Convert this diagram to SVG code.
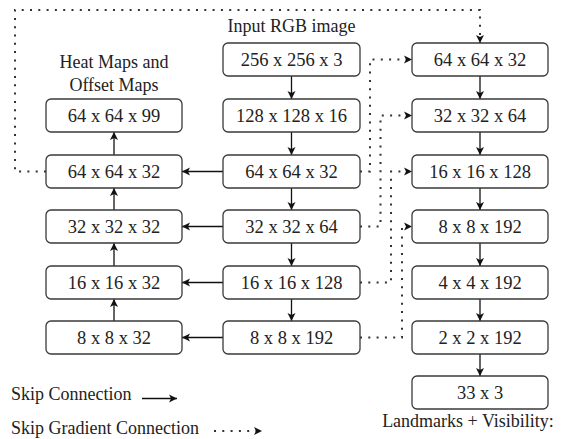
<svg xmlns="http://www.w3.org/2000/svg" width="563" height="439" viewBox="0 0 563 439">
<defs>
<marker id="ah" markerUnits="userSpaceOnUse" markerWidth="10" markerHeight="10" refX="8" refY="4" orient="auto" viewBox="0 0 10 8">
<path d="M0,0 L8,4 L0,8 L2,4 Z" fill="#111"/>
</marker>
</defs>
<style>
.box{fill:#fff;stroke:#3a3a3a;stroke-width:1.3}
.t{font-family:"Liberation Serif","Times New Roman",serif;font-size:18.5px;fill:#222;text-anchor:middle}
.lb{font-family:"Liberation Serif","Times New Roman",serif;font-size:18px;fill:#222}
.sc{fill:none;stroke:#111;stroke-width:1.3;marker-end:url(#ah)}
.dt{fill:none;stroke:#333;stroke-width:2;stroke-dasharray:2 6.3}
.dta{fill:none;stroke:#333;stroke-width:2;stroke-dasharray:2 6.3;marker-end:url(#ah)}
</style>
<rect width="563" height="439" fill="#fff"/>

<text class="lb" x="291.5" y="32" text-anchor="middle">Input RGB image</text>
<text class="lb" x="114" y="68" text-anchor="middle">Heat Maps and</text>
<text class="lb" x="114" y="90.5" text-anchor="middle">Offset Maps</text>

<g id="connectors">
<line class="sc" x1="291.5" y1="76" x2="291.5" y2="99"/>
<line class="sc" x1="291.5" y1="132" x2="291.5" y2="155"/>
<line class="sc" x1="291.5" y1="188" x2="291.5" y2="210"/>
<line class="sc" x1="291.5" y1="243" x2="291.5" y2="266"/>
<line class="sc" x1="291.5" y1="299" x2="291.5" y2="321"/>
<line class="sc" x1="480" y1="76" x2="480" y2="99"/>
<line class="sc" x1="480" y1="132" x2="480" y2="155"/>
<line class="sc" x1="480" y1="188" x2="480" y2="210"/>
<line class="sc" x1="480" y1="243" x2="480" y2="266"/>
<line class="sc" x1="480" y1="299" x2="480" y2="321"/>
<line class="sc" x1="480" y1="354" x2="480" y2="376"/>
<line class="sc" x1="114" y1="155" x2="114" y2="132"/>
<line class="sc" x1="114" y1="210" x2="114" y2="188"/>
<line class="sc" x1="114" y1="266" x2="114" y2="243"/>
<line class="sc" x1="114" y1="321" x2="114" y2="299"/>
<line class="sc" x1="223" y1="171.5" x2="182" y2="171.5"/>
<line class="sc" x1="223" y1="226.5" x2="182" y2="226.5"/>
<line class="sc" x1="223" y1="282.5" x2="182" y2="282.5"/>
<line class="sc" x1="223" y1="337.5" x2="182" y2="337.5"/>
<path class="dta" d="M46,171.5 H15 V10 H480 V43"/>
<path class="dta" d="M360,171.5 H370 V59.5 H412"/>
<path class="dta" d="M360,226.5 H380.5 V115.5 H412"/>
<path class="dta" d="M360,282.5 H391 V171.5 H412"/>
<path class="dta" d="M360,337.5 H402 V226.5 H412"/>
</g>

<g id="m0"><rect class="box" x="223" y="43" width="137" height="33" rx="5"/><text class="t" x="291.5" y="66">256 x 256 x 3</text></g>
<g id="m1"><rect class="box" x="223" y="99" width="137" height="33" rx="5"/><text class="t" x="291.5" y="122">128 x 128 x 16</text></g>
<g id="m2"><rect class="box" x="223" y="155" width="137" height="33" rx="5"/><text class="t" x="291.5" y="178">64 x 64 x 32</text></g>
<g id="m3"><rect class="box" x="223" y="210" width="137" height="33" rx="5"/><text class="t" x="291.5" y="233">32 x 32 x 64</text></g>
<g id="m4"><rect class="box" x="223" y="266" width="137" height="33" rx="5"/><text class="t" x="291.5" y="289">16 x 16 x 128</text></g>
<g id="m5"><rect class="box" x="223" y="321" width="137" height="33" rx="5"/><text class="t" x="291.5" y="344">8 x 8 x 192</text></g>

<g id="l0"><rect class="box" x="46" y="99" width="136" height="33" rx="5"/><text class="t" x="114" y="122">64 x 64 x 99</text></g>
<g id="l1"><rect class="box" x="46" y="155" width="136" height="33" rx="5"/><text class="t" x="114" y="178">64 x 64 x 32</text></g>
<g id="l2"><rect class="box" x="46" y="210" width="136" height="33" rx="5"/><text class="t" x="114" y="233">32 x 32 x 32</text></g>
<g id="l3"><rect class="box" x="46" y="266" width="136" height="33" rx="5"/><text class="t" x="114" y="289">16 x 16 x 32</text></g>
<g id="l4"><rect class="box" x="46" y="321" width="136" height="33" rx="5"/><text class="t" x="114" y="344">8 x 8 x 32</text></g>

<g id="r0"><rect class="box" x="412" y="43" width="136" height="33" rx="5"/><text class="t" x="480" y="66">64 x 64 x 32</text></g>
<g id="r1"><rect class="box" x="412" y="99" width="136" height="33" rx="5"/><text class="t" x="480" y="122">32 x 32 x 64</text></g>
<g id="r2"><rect class="box" x="412" y="155" width="136" height="33" rx="5"/><text class="t" x="480" y="178">16 x 16 x 128</text></g>
<g id="r3"><rect class="box" x="412" y="210" width="136" height="33" rx="5"/><text class="t" x="480" y="233">8 x 8 x 192</text></g>
<g id="r4"><rect class="box" x="412" y="266" width="136" height="33" rx="5"/><text class="t" x="480" y="289">4 x 4 x 192</text></g>
<g id="r5"><rect class="box" x="412" y="321" width="136" height="33" rx="5"/><text class="t" x="480" y="344">2 x 2 x 192</text></g>
<g id="r6"><rect class="box" x="412" y="376" width="136" height="33" rx="5"/><text class="t" x="480" y="399">33 x 3</text></g>

<text class="lb" x="468" y="427" text-anchor="middle">Landmarks + Visibility:</text>

<g id="legend">
<text class="lb" x="11" y="400">Skip Connection</text>
<line class="sc" x1="142" y1="398.5" x2="177" y2="398.5"/>
<text class="lb" x="11" y="434">Skip Gradient Connection</text>
<line class="dta" x1="214" y1="431" x2="262" y2="431"/>
</g>
</svg>
